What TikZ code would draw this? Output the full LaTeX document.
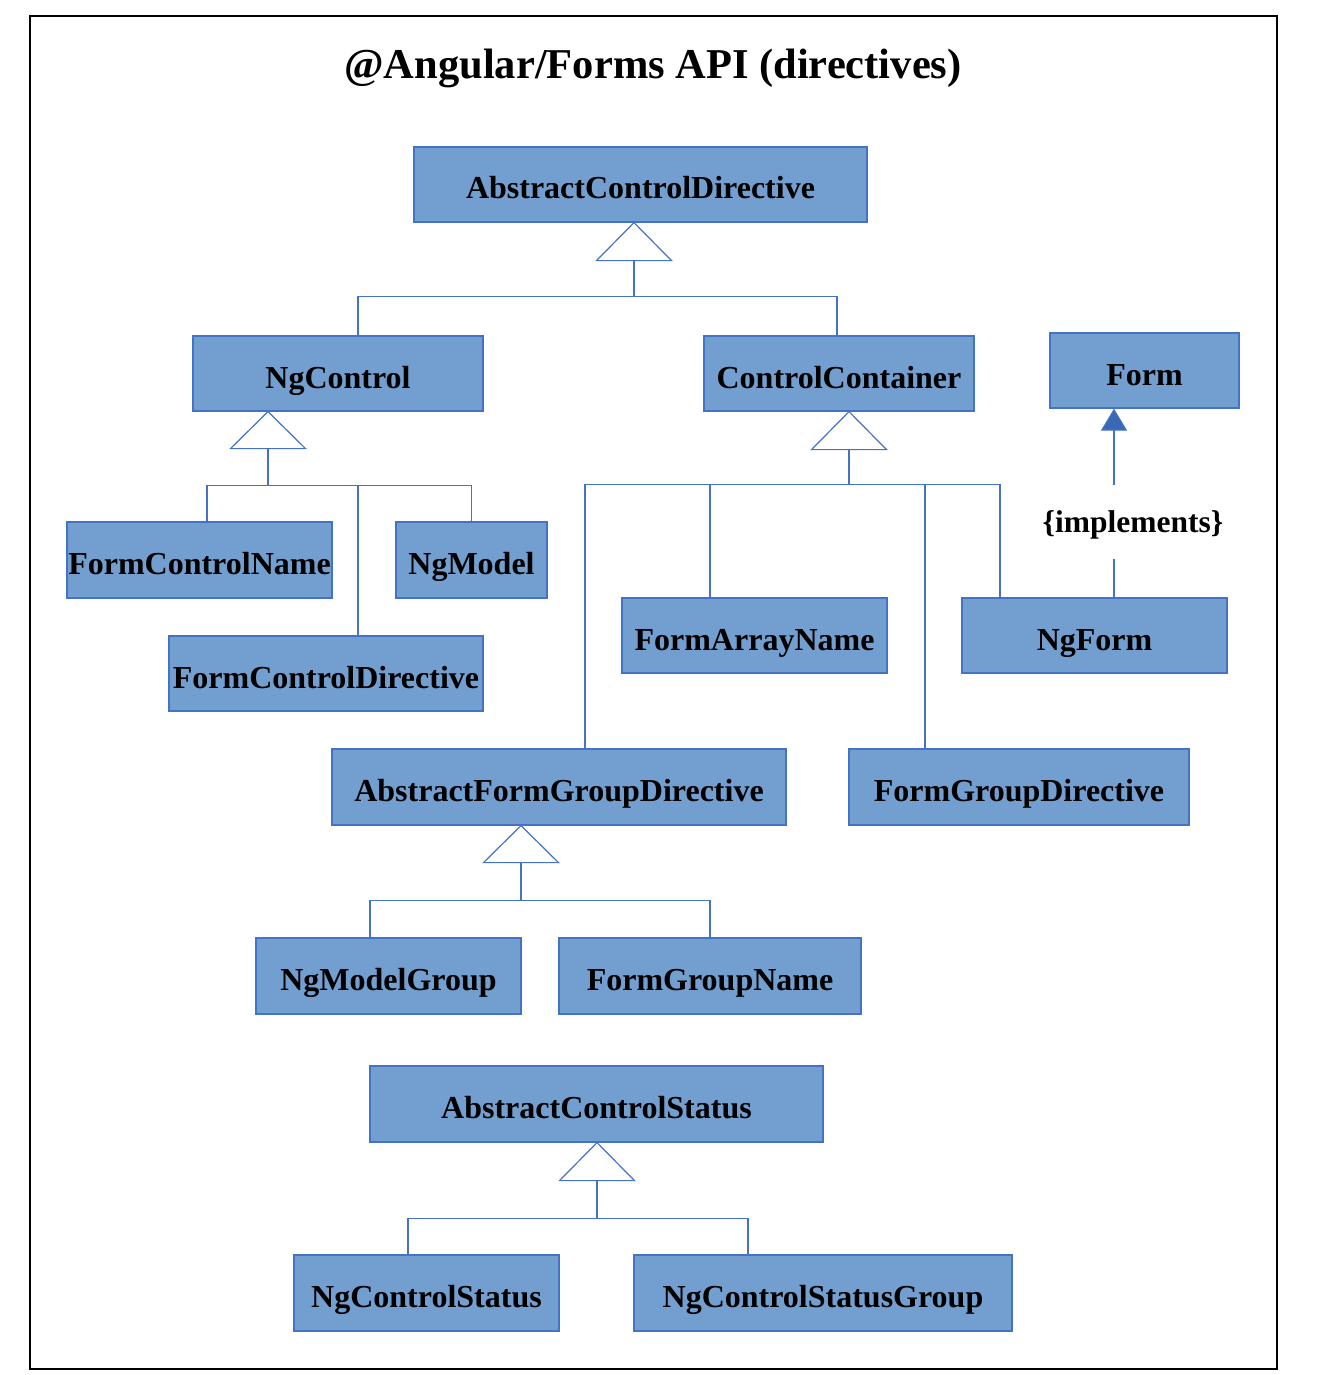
\documentclass[tikz,border=0pt]{standalone}
\usepackage{fontspec}
\setmainfont{Liberation Serif}
\usetikzlibrary{calc,arrows.meta}
\definecolor{boxfill}{RGB}{114,159,207}
\definecolor{boxline}{RGB}{68,114,196}
\definecolor{tipfill}{RGB}{58,104,180}
\begin{document}
\begin{tikzpicture}[x=1pt,y=-1pt,
 box/.style={draw=boxline, fill=boxfill, line width=1.2pt, inner sep=0pt, text height=32pt, text depth=3pt, font=\fontsize{32}{36}\selectfont\bfseries},
 conn/.style={draw=boxline, line width=1.2pt},
 tri/.style={draw=boxline, line width=1.2pt, fill=white, line join=miter}]
\useasboundingbox (0,0) rectangle (1333,1375);
\draw[line width=1.2pt] (30,16) rectangle (1277,1369);
\node[font=\fontsize{42.5}{48}\selectfont\bfseries] (title) at (653,68) {@Angular/Forms API (directives)};

\node[box, minimum width=453pt, minimum height=75pt] (acd) at (640.5,184.5) {AbstractControlDirective};
\node[box, minimum width=290pt, minimum height=75pt] (ngc) at (338,373.5) {NgControl};
\node[box, minimum width=270pt, minimum height=75pt] (cc) at (839,373.5) {ControlContainer};
\node[box, minimum width=189pt, minimum height=75pt] (form) at (1144.5,370.5) {Form};
\node[box, minimum width=265pt, minimum height=76pt] (fcn) at (199.5,560) {FormControlName};
\node[box, minimum width=151pt, minimum height=76pt] (ngm) at (471.5,560) {NgModel};
\node[box, minimum width=314pt, minimum height=75pt] (fcd) at (326,673.5) {FormControlDirective};
\node[box, minimum width=265pt, minimum height=75pt] (fan) at (754.5,635.5) {FormArrayName};
\node[box, minimum width=265pt, minimum height=75pt] (ngf) at (1094.5,635.5) {NgForm};
\node[box, minimum width=454pt, minimum height=76pt] (afgd) at (559,787) {AbstractFormGroupDirective};
\node[box, minimum width=340pt, minimum height=76pt] (fgd) at (1019,787) {FormGroupDirective};
\node[box, minimum width=265pt, minimum height=76pt] (nmg) at (388.5,976) {NgModelGroup};
\node[box, minimum width=302pt, minimum height=76pt] (fgn) at (710,976) {FormGroupName};
\node[box, minimum width=453pt, minimum height=76pt] (acs) at (596.5,1104) {AbstractControlStatus};
\node[box, minimum width=265pt, minimum height=76pt] (ncs) at (426.5,1293) {NgControlStatus};
\node[box, minimum width=378pt, minimum height=76pt] (ncsg) at (823,1293) {NgControlStatusGroup};

% AbstractControlDirective
\coordinate (A1) at ($(acd.south)+(-6.5,0)$);
\draw[tri] (A1) -- ++(-37.5,38) -- ++(75,0) -- cycle;
\draw[conn] ($(A1)+(0,38)$) -- ($(A1)+(0,74)$) coordinate (B1);
\draw[conn] ($(ngc.north)+(20,0)$) |- (B1) -| ($(cc.north)+(-2,0)$);

% NgControl
\coordinate (A2) at ($(ngc.south)+(-70,0)$);
\draw[tri] (A2) -- ++(-37.5,37) -- ++(75,0) -- cycle;
\draw[conn] ($(A2)+(0,37)$) -- ($(A2)+(0,74)$) coordinate (B2);
\draw[conn] ($(fcn.north)+(7.5,0)$) |- (B2) -| (ngm.north);
\draw[conn] ($(fcd.north)+(32,0)$) |- (B2);

% ControlContainer
\coordinate (A3) at ($(cc.south)+(10,0)$);
\draw[tri] (A3) -- ++(-37.5,38) -- ++(75,0) -- cycle;
\draw[conn] ($(A3)+(0,38)$) -- ($(A3)+(0,73)$) coordinate (B3);
\draw[conn] ($(afgd.north)+(26,0)$) |- (B3) -| ($(ngf.north)+(-94.5,0)$);
\draw[conn] ($(fan.north)+(-44.5,0)$) |- (B3);
\draw[conn] ($(fgd.north)+(-94,0)$) |- (B3);

% AbstractFormGroupDirective
\coordinate (A4) at ($(afgd.south)+(-38,0)$);
\draw[tri] (A4) -- ++(-37.5,37) -- ++(75,0) -- cycle;
\draw[conn] ($(A4)+(0,37)$) -- ($(A4)+(0,75)$) coordinate (B4);
\draw[conn] ($(nmg.north)+(-18.5,0)$) |- (B4) -| (fgn.north);

% AbstractControlStatus
\coordinate (A5) at ($(acs.south)+(0.5,0)$);
\draw[tri] (A5) -- ++(-37.5,38) -- ++(75,0) -- cycle;
\draw[conn] ($(A5)+(0,38)$) -- ($(A5)+(0,76)$) coordinate (B5);
\draw[conn] ($(ncs.north)+(-18.5,0)$) |- (B5) -| ($(ncsg.north)+(-75,0)$);

% implements
\node[font=\fontsize{31.5}{36}\selectfont\bfseries] (impl) at (1133,525) {\{implements\}};
\draw[conn] ($(ngf.north)+(19.5,0)$) -- ++(0,-38);
\draw[conn, -{Triangle[width=26pt,length=22pt,fill=tipfill]}] ($(form.south)+(-30.5,76)$) -- ($(form.south)+(-30.5,0)$);
\end{tikzpicture}
\end{document}
